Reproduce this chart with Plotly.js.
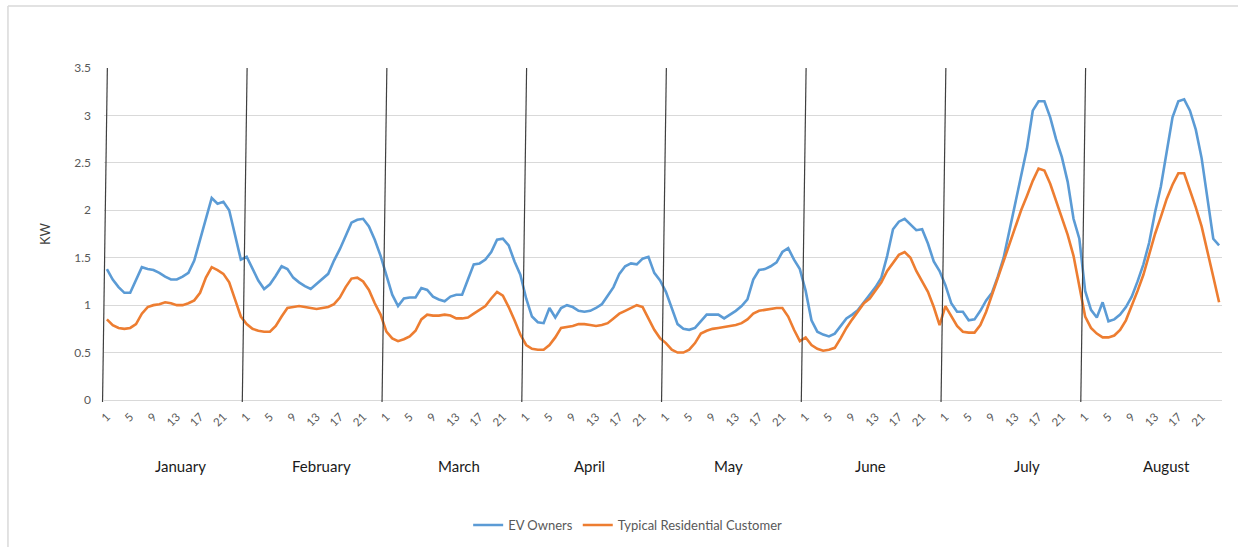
<!DOCTYPE html>
<html>
<head>
<meta charset="utf-8">
<script src="https://cdn.plot.ly/plotly-3.0.1.min.js"></script>
<style>html,body{margin:0;padding:0;background:#fff;}#chart{width:1238px;height:547px;}</style>
</head>
<body>
<div id="chart"></div>
<script>
// ---- data ----
const months = ['January','February','March','April','May','June','July','August'];
const hourTickLabels = ['1','5','9','13','17','21'];
const seriesNames = ['EV Owners','Typical Residential Customer'];

const evJan = [1.38,1.27,1.19,1.13,1.13,1.27,1.40,1.38,1.37,1.34,1.30,1.27,1.27,1.30,1.34,1.47,1.70,1.93,2.13,2.07,2.09,2.00,1.75,1.48];
const evFeb = [1.51,1.38,1.26,1.17,1.22,1.31,1.41,1.38,1.29,1.24,1.20,1.17,1.22,1.28,1.33,1.47,1.59,1.73,1.87,1.90,1.91,1.83,1.69,1.52];
const evMar = [1.32,1.11,0.99,1.07,1.08,1.08,1.18,1.16,1.09,1.06,1.04,1.09,1.11,1.11,1.27,1.43,1.44,1.48,1.56,1.69,1.70,1.63,1.46,1.32];
const evApr = [1.07,0.88,0.82,0.81,0.97,0.87,0.97,1.00,0.98,0.94,0.93,0.94,0.97,1.01,1.10,1.19,1.33,1.41,1.44,1.43,1.49,1.51,1.34,1.26];
const evMay = [1.14,0.96,0.80,0.75,0.74,0.76,0.83,0.90,0.90,0.90,0.86,0.90,0.94,0.99,1.06,1.27,1.37,1.38,1.41,1.45,1.56,1.60,1.48,1.38];
const evJun = [1.15,0.84,0.72,0.69,0.67,0.70,0.78,0.86,0.90,0.95,1.03,1.11,1.19,1.29,1.52,1.80,1.88,1.91,1.85,1.79,1.80,1.65,1.46,1.36];
const evJul = [1.21,1.02,0.93,0.93,0.84,0.85,0.94,1.05,1.13,1.30,1.50,1.78,2.08,2.35,2.65,3.05,3.15,3.15,2.98,2.75,2.56,2.30,1.91,1.70];
const evAug = [1.15,0.95,0.87,1.03,0.83,0.85,0.90,0.98,1.09,1.25,1.43,1.66,1.98,2.25,2.61,2.98,3.15,3.17,3.05,2.85,2.55,2.10,1.70,1.63];

const resJan = [0.85,0.79,0.76,0.75,0.76,0.80,0.91,0.98,1.00,1.01,1.03,1.02,1.00,1.00,1.02,1.05,1.13,1.29,1.40,1.37,1.33,1.24,1.06,0.88];
const resFeb = [0.80,0.75,0.73,0.72,0.72,0.78,0.88,0.97,0.98,0.99,0.98,0.97,0.96,0.97,0.98,1.01,1.08,1.19,1.28,1.29,1.25,1.16,1.02,0.90];
const resMar = [0.72,0.65,0.62,0.64,0.67,0.73,0.85,0.90,0.89,0.89,0.90,0.89,0.86,0.86,0.87,0.91,0.95,0.99,1.07,1.14,1.10,0.98,0.84,0.69];
const resApr = [0.58,0.54,0.53,0.53,0.58,0.66,0.76,0.77,0.78,0.80,0.80,0.79,0.78,0.79,0.81,0.86,0.91,0.94,0.97,1.00,0.98,0.86,0.74,0.65];
const resMay = [0.60,0.53,0.50,0.50,0.53,0.60,0.70,0.73,0.75,0.76,0.77,0.78,0.79,0.81,0.85,0.91,0.94,0.95,0.96,0.97,0.97,0.88,0.74,0.62];
const resJun = [0.66,0.58,0.54,0.52,0.53,0.55,0.65,0.76,0.85,0.94,1.02,1.07,1.15,1.24,1.36,1.45,1.53,1.56,1.50,1.36,1.25,1.14,0.98,0.79];
const resJul = [0.99,0.88,0.78,0.72,0.71,0.71,0.79,0.93,1.11,1.29,1.47,1.66,1.84,2.00,2.15,2.31,2.44,2.42,2.28,2.10,1.92,1.74,1.52,1.20];
const resAug = [0.88,0.76,0.70,0.66,0.66,0.68,0.74,0.84,0.99,1.15,1.32,1.55,1.75,1.93,2.12,2.27,2.39,2.39,2.22,2.03,1.83,1.58,1.30,1.03];

const evByMonth = [evJan,evFeb,evMar,evApr,evMay,evJun,evJul,evAug];
const resByMonth = [resJan,resFeb,resMar,resApr,resMay,resJun,resJul,resAug];

// ---- build series on a continuous category index ----
const HOURS = 24;
const xIdx = [], ev = [], res = [];
months.forEach((m, k) => {
  evByMonth[k].forEach((v, h) => {
    xIdx.push(k * HOURS + h);
    ev.push(v);
    res.push(resByMonth[k][h]);
  });
});
const tickvals = [], ticktext = [];
months.forEach((m, k) => {
  hourTickLabels.forEach(l => { tickvals.push(k * HOURS + parseInt(l, 10) - 1); ticktext.push(l); });
});

const FONT = 'Lato, "Open Sans", "DejaVu Sans", sans-serif';
const nM = months.length;
const total = nM * HOURS;

// month separator lines (slightly slanted like the reference)
const shapes = [];
for (let k = 0; k < nM; k++) {
  shapes.push({type:'line', xref:'paper', yref:'paper',
    x0: k / nM - 0.0013, x1: k / nM + 0.003, y0: -0.006, y1: 1.0,
    line:{color:'#3f3f3f', width:1.2}, layer:'above'});
}
// chart border (top and left edges visible)
shapes.push({type:'line', xref:'paper', yref:'paper', x0:-0.0859, x1:1.2, y0:1.1867, y1:1.1867, line:{color:'#d9d9d9', width:1.5}});
shapes.push({type:'line', xref:'paper', yref:'paper', x0:-0.0859, x1:-0.0859, y0:-1, y1:1.1867, line:{color:'#d9d9d9', width:1.5}});

// month labels
const labelShift = [1.2, 1.4, 1.0, -0.7, -0.7, -0.3, 2.5, 2.4];
const annotations = months.map((m, k) => ({
  text: m, xref:'x', yref:'paper', x: k * HOURS + (HOURS - 1) / 2 + labelShift[k], y: -0.2,
  showarrow:false, xanchor:'center', yanchor:'middle',
  font:{family:FONT, size:15, color:'#1a1a1a'}
}));

const traces = [
  {x:xIdx, y:ev, type:'scatter', mode:'lines', name:seriesNames[0], line:{color:'#5b9bd5', width:2.6}},
  {x:xIdx, y:res, type:'scatter', mode:'lines', name:seriesNames[1], line:{color:'#ed7d31', width:2.6}}
];

const layout = {
  width:1238, height:547,
  margin:{l:104, r:16, t:68, b:147},
  paper_bgcolor:'#fff', plot_bgcolor:'#fff',
  font:{family:FONT, color:'#595959'},
  showlegend:true,
  legend:{orientation:'h', xref:'container', yref:'container', x:0.507, xanchor:'center', y:0.04, yanchor:'middle',
    font:{family:FONT, size:13, color:'#595959'}, itemwidth:30, traceorder:'normal', bgcolor:'rgba(0,0,0,0)'},
  xaxis:{range:[-0.5, total - 0.5], tickmode:'array', tickvals:tickvals, ticktext:ticktext,
    tickangle:-45, showgrid:false, zeroline:false, showline:false, ticks:'', automargin:false,
    ticklabelstandoff:7, tickfont:{family:FONT, size:11.5, color:'#595959'}},
  yaxis:{range:[0, 3.5], dtick:0.5, tick0:0, showgrid:true, gridcolor:'#d9d9d9', gridwidth:1,
    zeroline:true, zerolinecolor:'#d9d9d9', zerolinewidth:1, showline:false, ticks:'', automargin:false,
    ticklabelstandoff:12, tickfont:{family:FONT, size:12, color:'#595959'},
    title:{text:'KW', font:{family:FONT, size:13, color:'#404040'}, standoff:20}},
  shapes:shapes,
  annotations:annotations
};

Plotly.newPlot('chart', traces, layout, {staticPlot:true, displayModeBar:false});
</script>
</body>
</html>
